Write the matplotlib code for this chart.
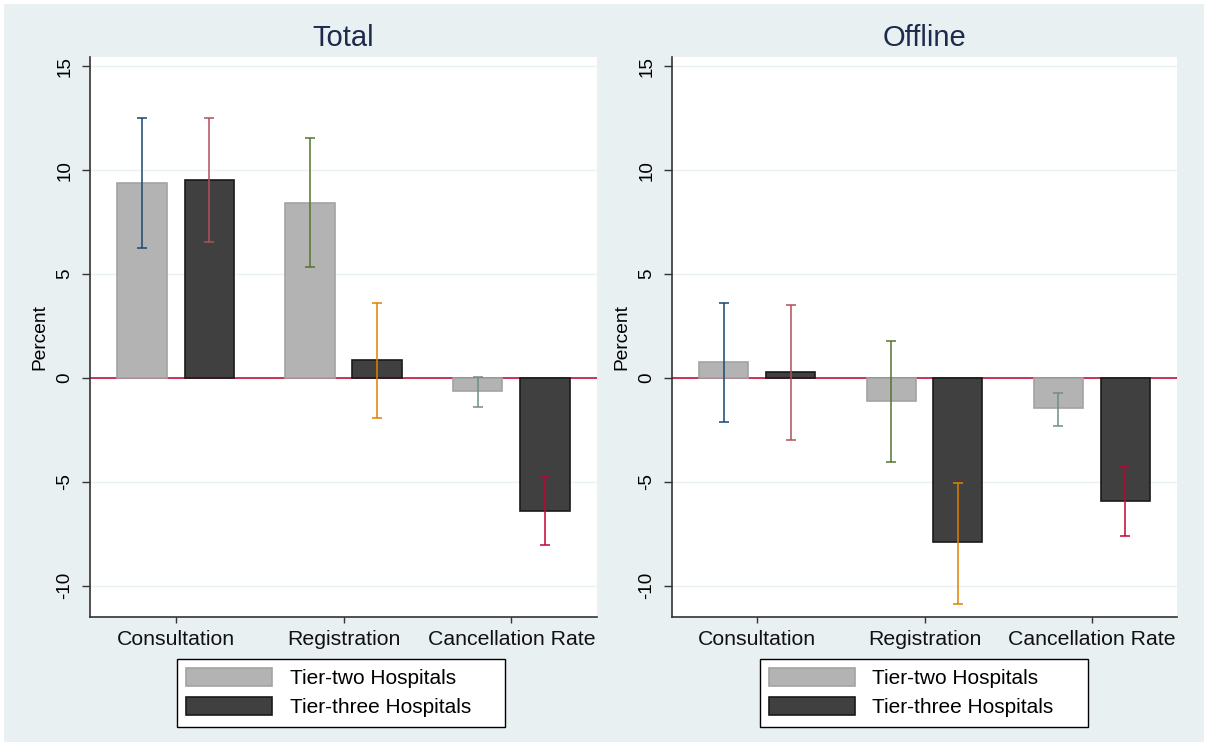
import numpy as np
import matplotlib.pyplot as plt
from matplotlib.patches import Rectangle

plt.rcParams["font.family"] = ["Liberation Sans", "DejaVu Sans"]

categories = ["Consultation", "Registration", "Cancellation Rate"]
series = ["Tier-two Hospitals", "Tier-three Hospitals"]

# Total
total_t2 = [9.38, 8.44, -0.64]
total_t2_lo = [6.28, 5.35, -1.39]
total_t2_hi = [12.51, 11.57, 0.05]
total_t3 = [9.53, 0.85, -6.38]
total_t3_lo = [6.55, -1.94, -8.05]
total_t3_hi = [12.51, 3.59, -4.76]

# Offline
off_t2 = [0.78, -1.12, -1.46]
off_t2_lo = [-2.10, -4.04, -2.32]
off_t2_hi = [3.59, 1.76, -0.72]
off_t3 = [0.27, -7.88, -5.91]
off_t3_lo = [-2.98, -10.87, -7.61]
off_t3_hi = [3.52, -5.03, -4.29]

bg = "#e8f0f2"
bar_fill = ["#b3b3b3", "#404040"]
bar_edge = ["#a3a3a3", "#1a1a1a"]
# one CI colour per bar: (category, series)
ci_colors = [["#1a476f", "#b0505a"], ["#55752f", "#e37e00"], ["#6e8e84", "#c10534"]]
zero_color = "#c8103a"
title_color = "#1c2a4d"

W, H = 1208, 746
fig = plt.figure(figsize=(W / 100, H / 100), dpi=100, facecolor="white")
fig.patches.append(
    Rectangle((4 / W, 4 / H), 1200 / W, 738 / H,
              transform=fig.transFigure, facecolor=bg, edgecolor="none", zorder=-10)
)


def panel(rect, title, vals, los, his, legend_box):
    ax = fig.add_axes(rect)
    ax.set_facecolor("white")
    x = np.arange(len(categories))
    width = 0.293
    offsets = [-0.2, 0.2]
    for s in range(2):
        ax.bar(x + offsets[s], vals[s], width, color=bar_fill[s],
               edgecolor=bar_edge[s], linewidth=1.2, label=series[s], zorder=2)
        for i in range(len(categories)):
            lo, hi = los[s][i], his[s][i]
            ax.errorbar(x[i] + offsets[s], (lo + hi) / 2, yerr=(hi - lo) / 2,
                        fmt="none", ecolor=ci_colors[i][s], elinewidth=1.1,
                        capsize=3.6, capthick=1.1, zorder=3)
    ax.axhline(0, color=zero_color, lw=1.2, zorder=1)
    ax.set_xlim(-0.51, 2.51)
    ax.set_ylim(-11.5, 15.45)
    ax.set_yticks([-10, -5, 0, 5, 10, 15])
    ax.set_yticklabels(["-10", "-5", "0", "5", "10", "15"], rotation=90,
                       va="center", fontsize=13.5)
    ax.set_xticks(x)
    ax.set_xticklabels(categories, fontsize=15.3, color="#111111")
    ax.grid(axis="y", color="#eaf2f3", lw=1, zorder=0)
    ax.set_axisbelow(True)
    for side in ("top", "right"):
        ax.spines[side].set_visible(False)
    for side in ("left", "bottom"):
        ax.spines[side].set_color("#333333")
        ax.spines[side].set_linewidth(1.2)
    ax.tick_params(axis="y", length=6, width=1, color="#333333", pad=6)
    ax.tick_params(axis="x", length=4.5, width=1, color="#333333", pad=5)
    ax.set_ylabel("Percent", fontsize=13.8, labelpad=6)
    ax.set_title(title, fontsize=21, color=title_color, pad=8)

    # legend box given in pixels: left, top, right, bottom
    l, t, r, b = legend_box
    leg = ax.legend(loc="upper left", mode="expand",
                    bbox_to_anchor=(l / W, 1 - b / H, (r - l) / W, (b - t) / H),
                    bbox_transform=fig.transFigure, borderaxespad=0,
                    fontsize=15, handlelength=4.1, handleheight=0.9,
                    handletextpad=0.85, labelspacing=0.44, borderpad=0.45,
                    fancybox=False, framealpha=1, edgecolor="black")
    leg.get_frame().set_linewidth(1.0)
    return ax


panel([90 / W, 129 / H, 507 / W, 560 / H], "Total",
      [total_t2, total_t3], [total_t2_lo, total_t3_lo],
      [total_t2_hi, total_t3_hi], (177, 659, 505, 725))
panel([672 / W, 129 / H, 505 / W, 560 / H], "Offline",
      [off_t2, off_t3], [off_t2_lo, off_t3_lo],
      [off_t2_hi, off_t3_hi], (760, 659, 1088, 725))

fig.savefig("out.png", dpi=100, facecolor=fig.get_facecolor())
